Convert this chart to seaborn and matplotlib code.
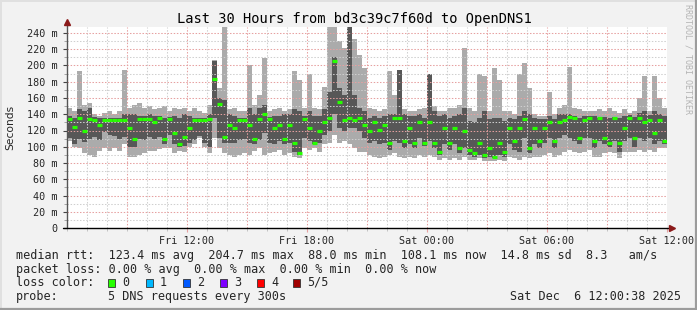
import numpy as np
import pandas as pd
import matplotlib
matplotlib.use("Agg")
import matplotlib.pyplot as plt
import seaborn as sns
from matplotlib.patches import Rectangle
from matplotlib.lines import Line2D

# ---------------- data ----------------
title = "Last 30 Hours from bd3c39c7f60d to OpenDNS1"
x_tick_hours = [6, 12, 18, 24, 30]
x_tick_labels = ["Fri 12:00", "Fri 18:00", "Sat 00:00", "Sat 06:00", "Sat 12:00"]
y_ticks = list(range(0, 241, 20))
y_tick_labels = ["0"] + [f"{v} m" for v in range(20, 241, 20)]
step_hours = 0.25  # one column = 15 minutes

rtt_max = [148, 144, 193, 152, 154, 140, 138, 142, 144, 140, 144, 195, 148, 152, 154, 148, 150, 146, 148, 150,
           144, 148, 146, 148, 144, 148, 144, 142, 152, 207, 172, 248, 146, 148, 144, 144, 200, 152, 164, 209,
           144, 146, 148, 144, 146, 193, 182, 148, 189, 148, 146, 174, 250, 250, 230, 221, 250, 233, 213, 197,
           148, 146, 144, 146, 193, 164, 148, 146, 144, 144, 146, 148, 152, 150, 144, 144, 148, 148, 152, 221,
           148, 144, 189, 187, 144, 197, 182, 144, 144, 140, 189, 203, 172, 140, 138, 138, 168, 140, 148, 152,
           198, 148, 146, 144, 144, 144, 146, 144, 148, 144, 142, 146, 142, 144, 160, 187, 144, 187, 160, 148]
rtt_p4 = [138, 136, 146, 144, 148, 137, 136, 135, 136, 135, 136, 140, 140, 140, 138, 138, 140, 138, 138, 136,
          137, 138, 136, 140, 138, 136, 136, 136, 140, 205, 160, 158, 140, 138, 136, 136, 148, 140, 148, 152,
          137, 138, 138, 140, 140, 146, 144, 138, 144, 138, 138, 146, 168, 210, 172, 164, 250, 164, 148, 144,
          135, 138, 136, 138, 140, 140, 195, 140, 138, 138, 140, 136, 189, 144, 138, 140, 136, 138, 140, 148,
          132, 130, 135, 144, 134, 135, 135, 132, 135, 134, 138, 144, 140, 135, 134, 134, 138, 134, 140, 140,
          140, 138, 136, 138, 138, 138, 136, 137, 136, 137, 135, 138, 139, 137, 142, 144, 139, 144, 140, 138]
rtt_median = [134, 124, 135, 119, 134, 133, 127, 133, 133, 133, 133, 133, 123, 109, 134, 134, 134, 131, 135, 109,
              134, 117, 103, 112, 123, 133, 133, 133, 134, 183, 152, 112, 127, 123, 133, 133, 127, 109, 134, 140,
              134, 123, 127, 109, 127, 105, 92, 134, 123, 105, 119, 131, 135, 205, 155, 133, 135, 133, 135, 127,
              119, 131, 121, 127, 105, 135, 135, 107, 123, 105, 131, 105, 131, 105, 94, 123, 105, 123, 98, 119,
              96, 92, 105, 90, 98, 88, 105, 94, 123, 107, 123, 134, 98, 123, 107, 123, 131, 107, 131, 133,
              137, 135, 111, 133, 135, 107, 135, 111, 105, 135, 105, 123, 135, 111, 135, 131, 133, 117, 133, 107]
rtt_p2 = [111, 104, 110, 106, 110, 112, 108, 118, 115, 113, 110, 112, 100, 100, 110, 108, 112, 110, 112, 104,
          115, 103, 100, 101, 105, 108, 113, 105, 100, 135, 111, 105, 105, 105, 108, 110, 105, 103, 108, 117,
          105, 103, 107, 103, 105, 94, 90, 111, 107, 103, 105, 115, 119, 140, 123, 119, 123, 123, 119, 111,
          105, 107, 103, 105, 96, 107, 105, 98, 103, 98, 111, 101, 107, 98, 90, 103, 96, 103, 92, 98,
          90, 88, 90, 86, 88, 86, 90, 88, 103, 96, 94, 111, 92, 103, 98, 105, 111, 98, 111, 115,
          111, 107, 103, 111, 111, 98, 107, 103, 100, 107, 94, 107, 111, 100, 111, 107, 111, 104, 107, 103]
rtt_min = [107, 100, 98, 92, 90, 88, 95, 98, 95, 98, 95, 103, 88, 88, 90, 92, 95, 95, 97, 98,
           98, 92, 95, 94, 100, 103, 111, 100, 92, 111, 98, 92, 90, 88, 90, 92, 90, 95, 98, 90,
           92, 94, 96, 90, 92, 88, 86, 98, 96, 98, 94, 103, 105, 115, 105, 107, 103, 98, 94, 94,
           90, 88, 86, 88, 90, 92, 88, 86, 88, 86, 90, 88, 90, 88, 84, 86, 84, 86, 84, 88,
           84, 84, 86, 83, 83, 83, 84, 83, 88, 86, 84, 88, 86, 88, 88, 90, 92, 88, 90, 94,
           96, 94, 92, 94, 96, 88, 88, 92, 94, 92, 86, 94, 94, 94, 96, 94, 96, 94, 98, 98]

legend_rtt = "median rtt:  123.4 ms avg  204.7 ms max  88.0 ms min  108.1 ms now  14.8 ms sd  8.3   am/s"
legend_loss = "packet loss: 0.00 % avg  0.00 % max  0.00 % min  0.00 % now"
loss_labels = ["0", "1", "2", "3", "4", "5/5"]
loss_colors = ["#26ff00", "#00b8ff", "#0059ff", "#7e00ff", "#ff0000", "#a00000"]
probe_text = "5 DNS requests every 300s"
stamp_text = "Sat Dec  6 12:00:38 2025"
watermark = "RRDTOOL / TOBI OETIKER"

# ---------------- figure ----------------
W, H = 697, 310
sns.set_style("white")
plt.rcParams["font.family"] = ["DejaVu Sans Mono"]
fig = plt.figure(figsize=(W / 100, H / 100), dpi=100)
fig.patch.set_facecolor("#f2f2f2")


def fx(px):
    return px / W


def fy(py):
    return 1 - py / H


X0, X1, Y0, Y1 = 67, 667, 228, 27
ax = fig.add_axes([fx(X0), fy(Y0), (X1 - X0) / W, (Y0 - Y1) / H])
ax.set_facecolor("#ffffff")
ymax = (Y0 - Y1) / 195 * 240
ax.set_xlim(0, 30)
ax.set_ylim(0, ymax)

n = len(rtt_median)
centers = (np.arange(n) + 0.5) * step_hours
mx = np.minimum(np.array(rtt_max, float), ymax)
p4 = np.minimum(np.array(rtt_p4, float), ymax)
mn = np.array(rtt_min, float)
p2 = np.array(rtt_p2, float)
med = np.array(rtt_median, float)

# smoke
ax.bar(centers, mx - mn, bottom=mn, width=step_hours, color="#ababab", linewidth=0, zorder=1)
ax.bar(centers, p4 - p2, bottom=p2, width=step_hours, color="#575757", linewidth=0, zorder=1.5)

# grid
dot = (0, (1.4, 1.6))
for h in range(1, 30):
    major = (h % 3 == 0)
    ax.axvline(h, color="#e6a0a0" if major else "#cfcfcf", lw=0.75, ls=dot, zorder=2)
for v in range(10, 241, 10):
    major = (v % 20 == 0)
    ax.axhline(v, color="#e6a0a0" if major else "#cfcfcf", lw=0.75, ls=dot, zorder=2)

# median (short horizontal ticks, drawn with seaborn)
seg_t, seg_v, seg_id = [], [], []
for i in range(n):
    seg_t += [i * step_hours, (i + 1) * step_hours]
    seg_v += [med[i], med[i]]
    seg_id += [i, i]
med_df = pd.DataFrame({"t": seg_t, "ms": seg_v, "seg": seg_id})
sns.lineplot(data=med_df, x="t", y="ms", units="seg", estimator=None, color=loss_colors[0],
             lw=2.3, legend=False, ax=ax, zorder=3, solid_capstyle="butt")

# axes / ticks
ax.set_xlabel("")
ax.set_ylabel("")
for s in ["top", "right", "left", "bottom"]:
    ax.spines[s].set_visible(False)
ax.set_xticks(x_tick_hours)
ax.set_xticklabels(x_tick_labels, fontsize=7.3)
ax.set_yticks(y_ticks)
ax.set_yticklabels(y_tick_labels, fontsize=7.3)
ax.tick_params(axis="y", length=3, width=0.8, color="#444444", pad=3.5, left=True)
ax.tick_params(axis="x", length=3, width=0.8, color="#e6a0a0", pad=2.5, bottom=True)
ax.set_xticks(range(0, 31), minor=True)
ax.set_yticks(range(0, 241, 10), minor=True)
ax.tick_params(axis="x", which="minor", length=2, color="#bbbbbb", bottom=True)
ax.tick_params(axis="y", which="minor", length=2, color="#999999", left=True)

ax.add_line(Line2D([0, 0], [0, 252], color="#555555", lw=1.0, clip_on=False, zorder=4))
ax.add_line(Line2D([-0.2, 30.1], [0, 0], color="#000000", lw=1.0, clip_on=False, zorder=4))
ax.plot([0], [254], marker="^", ms=4.5, color="#8b1a1a", clip_on=False, zorder=5)
ax.plot([30.25], [0], marker=">", ms=4.5, color="#8b1a1a", clip_on=False, zorder=5)

# title, labels
fig.text(fx(354), fy(19), title, ha="center", va="center", fontsize=9.9, color="#000000")
fig.text(fx(10), fy(127), "Seconds", ha="center", va="center", rotation=90, fontsize=7.7,
         family=["DejaVu Sans"])
fig.text(fx(688), fy(4), watermark, ha="center", va="top", rotation=270, fontsize=6.0,
         color="#b4b4b4")

# legend lines
LF = 8.45
fig.text(fx(16), fy(255.7), legend_rtt, ha="left", va="center", fontsize=LF)
fig.text(fx(16), fy(269), legend_loss, ha="left", va="center", fontsize=LF)
fig.text(fx(16), fy(282.3), "loss color:", ha="left", va="center", fontsize=LF)
sq_x = [108, 146, 183, 220, 257, 293]
lbl_x = [122, 160, 197, 234, 271, 307]
for sx, lx, lab, col in zip(sq_x, lbl_x, loss_labels, loss_colors):
    fig.patches.append(Rectangle((fx(sx), fy(286.5)), 7 / W, 7.5 / H, transform=fig.transFigure,
                                 facecolor=col, edgecolor="#333333", lw=0.6))
    fig.text(fx(lx), fy(282.3), lab, ha="left", va="center", fontsize=LF)
fig.text(fx(16), fy(296.3), "probe:", ha="left", va="center", fontsize=LF)
fig.text(fx(108), fy(296.3), probe_text, ha="left", va="center", fontsize=LF)
fig.text(fx(681), fy(296.3), stamp_text, ha="right", va="center", fontsize=LF)

# frame
fig.add_artist(Line2D([fx(0.5), fx(0.5)], [0, 1], color="#e0e0e0", lw=1.4))
fig.add_artist(Line2D([0, 1], [fy(0.5), fy(0.5)], color="#e0e0e0", lw=1.4))
fig.add_artist(Line2D([fx(W - 1), fx(W - 1)], [0, 1], color="#9c9c9c", lw=1.6))
fig.add_artist(Line2D([0, 1], [fy(H - 1), fy(H - 1)], color="#9c9c9c", lw=1.6))

fig.savefig("out.png", dpi=100, facecolor=fig.get_facecolor())
